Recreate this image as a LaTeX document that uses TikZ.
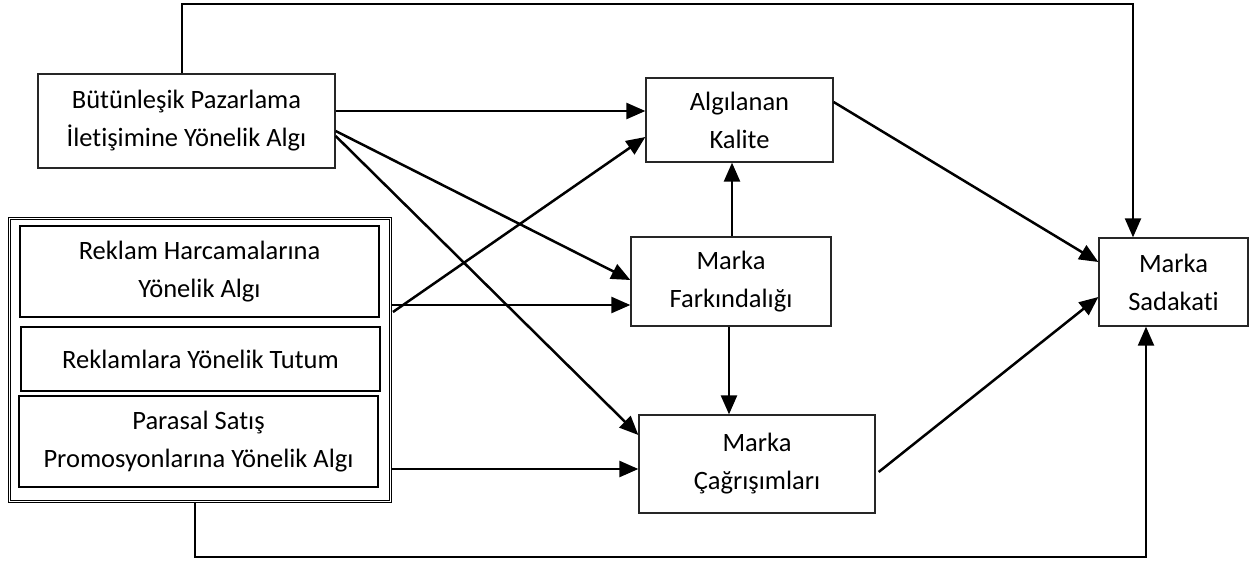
\documentclass[tikz,border=0pt]{standalone}
\usepackage{fontspec}
\setmainfont{Carlito}[Ligatures=NoCommon]
\usetikzlibrary{arrows.meta}
\begin{document}
\begin{tikzpicture}[x=1pt,y=-1pt,
  box/.style={draw=black!85,line width=1.3pt,rectangle,align=center,inner sep=0pt,
    font=\fontsize{26.5}{38}\selectfont,text=black},
  ibox/.style={box,line width=2pt,draw=black},
  tip/.style={-{Triangle[length=19pt,width=16pt]}},
  arr/.style={line width=2.5pt,tip},
  conn/.style={line width=2.2pt,tip}]
\useasboundingbox (0,0) rectangle (1250,560);
% group frame
\node[draw,double,double distance=1.3pt,line width=0.9pt,minimum width=381pt,minimum height=283pt,inner sep=0pt] (grp) at (200,360) {};
\node[ibox,minimum width=359pt,minimum height=91pt] (rh) at (199.5,271.5) {Reklam Harcamalarına\\Yönelik Algı};
\node[ibox,minimum width=359pt,minimum height=64pt] (rt) at (200.5,359) {Reklamlara Yönelik Tutum};
\node[ibox,minimum width=359pt,minimum height=91pt] (ps) at (198.5,441.5) {Parasal Satış\\Promosyonlarına Yönelik Algı};
% other boxes
\node[box,minimum width=297pt,minimum height=94pt] (bpi) at (186.5,121) {Bütünleşik Pazarlama\\İletişimine Yönelik Algı};
\node[box,minimum width=187pt,minimum height=84pt] (kal) at (739.5,120) {Algılanan\\Kalite};
\node[box,minimum width=200pt,minimum height=89pt] (far) at (731,281.5) {Marka\\Farkındalığı};
\node[box,minimum width=236pt,minimum height=98pt] (cag) at (757,464) {Marka\\Çağrışımları};
\node[box,minimum width=149pt,minimum height=88pt] (sad) at (1173.5,282) {Marka\\Sadakati};
% corner coordinates
\coordinate (tl) at (182,4);
\coordinate (tr) at (1133,4);
\coordinate (bl) at (195,557);
\coordinate (br) at (1146,557);
% top and bottom connectors
\draw[conn] (bpi.north -| tl) -- (tl) -- (tr) -- (tr |- sad.north);
\draw[conn] (grp.south -| bl) -- (bl) -- (br) -- (br |- sad.south);
% arrows from BPI
\draw[arr] ([yshift=10pt]bpi.east) -- ([yshift=10pt]bpi.east -| kal.west);
\draw[arr] ([yshift=-10pt]bpi.east) -- ([yshift=1.5pt]far.west);
\draw[arr] ([yshift=-15pt]bpi.east) -- ([yshift=29pt]cag.west);
% arrows from group
\draw[arr] ([yshift=48pt,xshift=2pt]grp.east) -- ([yshift=-17pt]kal.west);
\draw[arr] ([yshift=55pt]grp.east) -- ([yshift=55pt]grp.east -| far.west);
\draw[arr] ([yshift=-109pt]grp.east) -- ([yshift=-109pt]grp.east -| cag.west);
% inner arrows
\draw[arr] ([xshift=1pt]far.north) -- ([xshift=1pt]far.north |- kal.south);
\draw[arr] ([xshift=-2pt]far.south) -- ([xshift=-2pt]far.south |- cag.north);
\draw[arr] ([yshift=18pt]kal.east) -- ([yshift=20pt]sad.west);
\draw[arr] ([xshift=3pt,yshift=-8pt]cag.east) -- ([yshift=-15pt]sad.west);
\end{tikzpicture}
\end{document}
